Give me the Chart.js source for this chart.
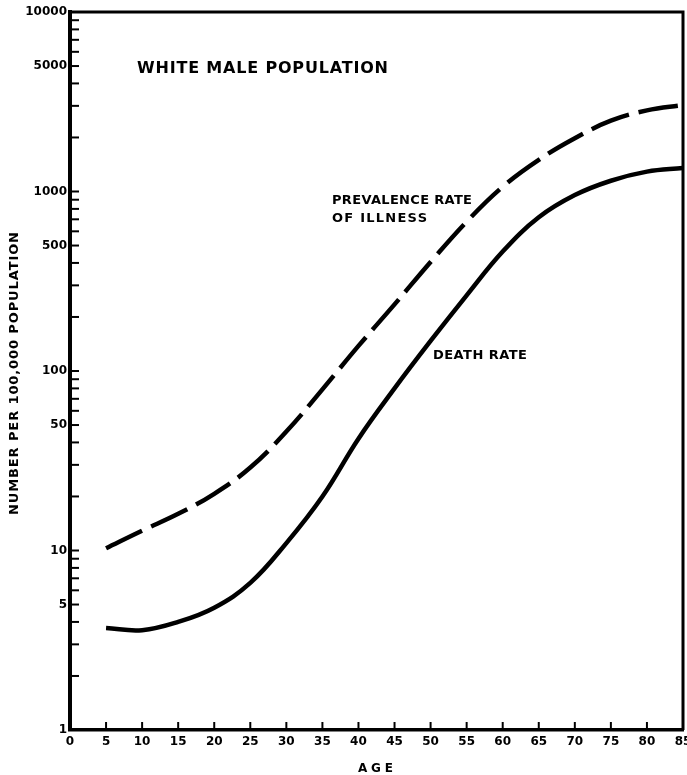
<!DOCTYPE html>
<html>
<head>
<meta charset="utf-8">
<script src="https://cdn.jsdelivr.net/npm/chart.js@4.4.1/dist/chart.umd.min.js"></script>
<style>
  html, body { margin: 0; padding: 0; background: #fff; }
</style>
</head>
<body>
<canvas id="chart" width="687" height="775"></canvas>
<script>
// values (per 100,000 population)
const ages = [5, 10, 15, 20, 25, 30, 35, 40, 45, 50, 55, 60, 65, 70, 75, 80, 85];
const prevalenceRate = [10.3, 12.9, 16, 20.7, 29, 46, 79, 138, 235, 405, 679, 1062, 1500, 1980, 2480, 2830, 3030];
const deathRate = [3.7, 3.6, 4.0, 4.8, 6.6, 11, 20, 42, 80, 147, 264, 463, 718, 955, 1148, 1290, 1352];
const yLabels = [1, 5, 10, 50, 100, 500, 1000, 5000, 10000];
const decades = [1, 10, 100, 1000];
const steps = [1, 2, 3, 4, 5, 6, 7, 8, 9];

const FONT = "'DejaVu Sans', sans-serif";

const yTickValues = [];
decades.forEach(d => steps.forEach(s => yTickValues.push(d * s)));
yTickValues.push(10000);

// draws bold caps spread out to a given width, like the lettering on the original
function spacedText(ctx, text, x, y, width, size) {
    ctx.font = `bold ${size}px ${FONT}`;
    ctx.letterSpacing = '0px';
    const w = ctx.measureText(text).width;
    const gap = (width - w) / (text.length - 1);
    ctx.letterSpacing = gap + 'px';
    ctx.fillText(text, x, y);
    ctx.letterSpacing = '0px';
}

const paperFrame = {
    id: 'paperFrame',
    afterDraw(chart) {
        const { ctx, chartArea: a, scales: { x, y } } = chart;
        ctx.save();
        ctx.strokeStyle = '#000';
        ctx.lineWidth = 3;
        ctx.beginPath();
        ctx.moveTo(a.left, a.top);
        ctx.lineTo(a.right, a.top);
        ctx.lineTo(a.right, a.bottom);
        ctx.stroke();

        // ticks point into the plot
        ctx.lineWidth = 2;
        y.ticks.forEach((t, i) => {
            const py = y.getPixelForTick(i);
            ctx.beginPath();
            ctx.moveTo(a.left, py);
            ctx.lineTo(a.left + 9, py);
            ctx.stroke();
        });
        x.ticks.forEach((t, i) => {
            const px = x.getPixelForTick(i);
            ctx.beginPath();
            ctx.moveTo(px, a.bottom);
            ctx.lineTo(px, a.bottom - 8);
            ctx.stroke();
        });

        ctx.fillStyle = '#000';
        ctx.textAlign = 'left';
        ctx.textBaseline = 'alphabetic';
        spacedText(ctx, 'WHITE MALE POPULATION', 137, 73, 251, 16);
        spacedText(ctx, 'PREVALENCE RATE', 332, 204, 140, 13);
        spacedText(ctx, 'OF ILLNESS', 332, 222, 95, 13);
        spacedText(ctx, 'DEATH RATE', 433, 359, 94, 13);
        spacedText(ctx, 'AGE', 358, 772, 35, 12);

        ctx.translate(18, 374);
        ctx.rotate(-Math.PI / 2);
        spacedText(ctx, 'NUMBER PER 100,000 POPULATION', -141, 0, 283, 13);
        ctx.restore();
    }
};

const tickFont = { family: FONT, size: 12, weight: 'bold' };

new Chart(document.getElementById('chart'), {
    type: 'line',
    data: {
        datasets: [
            {
                label: 'Prevalence rate of illness',
                data: ages.map((a, i) => ({ x: a, y: prevalenceRate[i] })),
                borderColor: '#000',
                borderWidth: 4.5,
                borderDash: [40, 10],
                pointRadius: 0,
                tension: 0.4,
                fill: false
            },
            {
                label: 'Death rate',
                data: ages.map((a, i) => ({ x: a, y: deathRate[i] })),
                borderColor: '#000',
                borderWidth: 4.5,
                pointRadius: 0,
                tension: 0.4,
                fill: false
            }
        ]
    },
    options: {
        responsive: false,
        animation: false,
        layout: { padding: { top: 12, right: 4, left: 0, bottom: 0 } },
        plugins: {
            legend: { display: false },
            tooltip: { enabled: false }
        },
        scales: {
            x: {
                type: 'linear',
                min: 0,
                max: 85,
                ticks: { stepSize: 5, padding: 5, autoSkip: false, maxRotation: 0, color: '#000', font: tickFont },
                grid: { display: false, drawTicks: false },
                border: { display: true, color: '#000', width: 3.5 },
                afterFit(s) {
                    s.height = 45;
                    s.paddingLeft = 0;
                    s.paddingRight = 0;
                }
            },
            y: {
                type: 'logarithmic',
                min: 1,
                max: 10000,
                afterBuildTicks(s) {
                    s.ticks = yTickValues.map(v => ({ value: v }));
                },
                ticks: {
                    autoSkip: false,
                    padding: 3,
                    color: '#000',
                    font: tickFont,
                    callback: v => yLabels.includes(v) ? String(v) : ''
                },
                grid: { display: false, drawTicks: false },
                border: { display: true, color: '#000', width: 4 },
                afterFit(s) {
                    s.width = 70;
                }
            }
        }
    },
    plugins: [paperFrame]
});
</script>
</body>
</html>
